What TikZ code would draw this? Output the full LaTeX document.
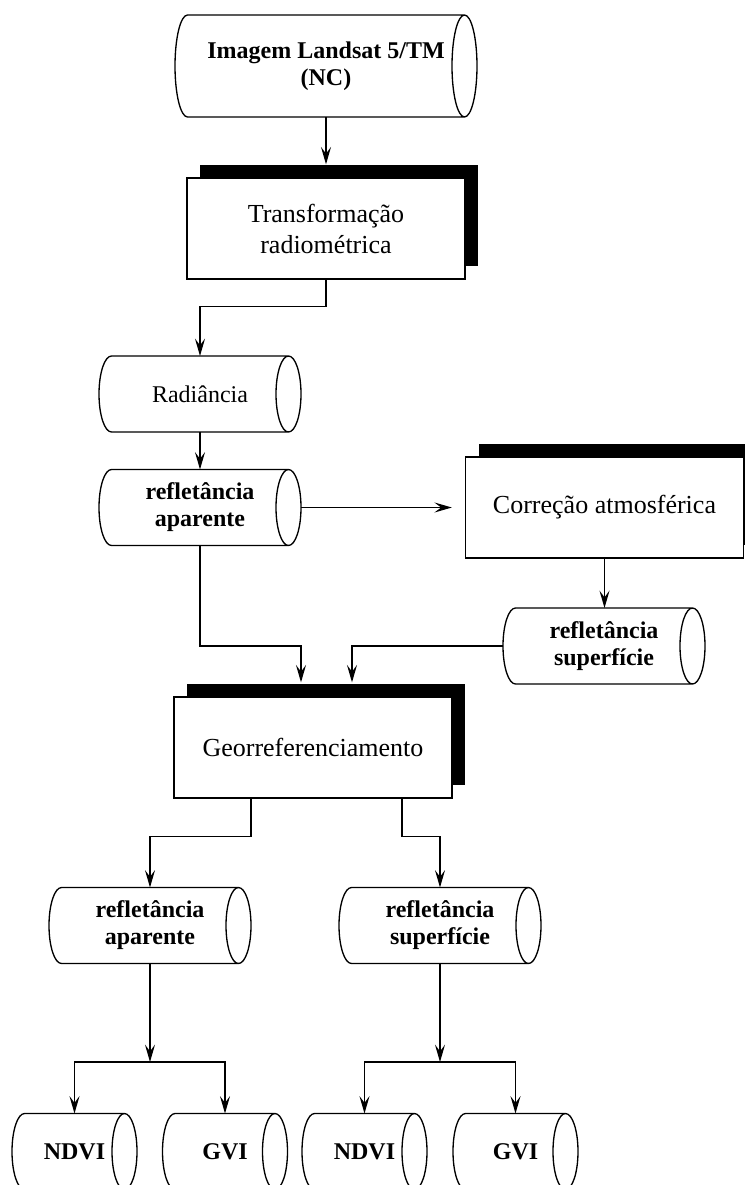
\documentclass[tikz,border=0pt]{standalone}
\usepackage{fontspec}
\setmainfont{Liberation Serif}
\usetikzlibrary{arrows.meta,shadows}
\begin{document}
\begin{tikzpicture}[x=0.75pt,y=-0.75pt,
  line/.style={line width=1pt},
  arr/.style={line, -{Stealth[length=13pt,width=7.5pt,inset=5pt]}},
  procbox/.style={draw, line width=1pt, fill=white, minimum width=208.5pt, minimum height=75.75pt,
    inner sep=2pt, align=center, font=\fontsize{19.5}{23.25}\selectfont,
    general shadow={fill=black, shadow xshift=9.75pt, shadow yshift=9.75pt}},
  cylbody/.style={draw=none, inner sep=0pt, outer sep=0pt, minimum width=#1, minimum height=57pt,
    align=center, font=\fontsize{18}{20.25}\selectfont\bfseries},
  cylbody/.default=132.75pt,
]
\useasboundingbox (0,0) rectangle (745,1185);
\clip (0,0) rectangle (745,1185);

% nodes
\node[cylbody=207.75pt, minimum height=76.5pt] (img) at (326,66) {Imagem Landsat 5/TM\\(NC)};
\node[procbox] (tr) at (326,228.5) {Transformação\\radiométrica};
\node[cylbody, font=\fontsize{18}{20.25}\selectfont] (rad) at (200,394) {Radiância};
\node[cylbody] (ra1) at (200,507.5) {refletância\\aparente};
\node[procbox] (ca) at (604.5,507.5) {Correção atmosférica};
\node[cylbody] (rs1) at (604,646) {refletância\\superfície};
\node[procbox] (geo) at (313,747.5) {Georreferenciamento};
\node[cylbody] (ra2) at (150,925.5) {refletância\\aparente};
\node[cylbody] (rs2) at (440,925.5) {refletância\\superfície};
\node[cylbody=75pt] (nd1) at (74.5,1151.5) {NDVI};
\node[cylbody=75pt] (gv1) at (225,1151.5) {GVI};
\node[cylbody=75pt] (nd2) at (364.5,1151.5) {NDVI};
\node[cylbody=75pt] (gv2) at (515.5,1151.5) {GVI};

% cylinder outlines
\foreach \nm/\ry in {img/38.25pt, rad/28.5pt, ra1/28.5pt, rs1/28.5pt, ra2/28.5pt, rs2/28.5pt,
    nd1/28.5pt, gv1/28.5pt, nd2/28.5pt, gv2/28.5pt}
  \draw[line] (\nm.north east) -- (\nm.north west)
    arc[start angle=90, end angle=270, x radius=9.375pt, y radius=\ry] -- (\nm.south east)
    (\nm.east) ellipse[x radius=9.375pt, y radius=\ry];

% helper coordinates
\coordinate (gin1) at ([shift={(-12,-14)}]geo.north);
\coordinate (gin2) at ([shift={(39,-14)}]geo.north);
\coordinate (gout1) at ([xshift=-46.5pt]geo.south);
\coordinate (gout2) at ([xshift=66.75pt]geo.south);
\coordinate (j1) at (150,1062);
\coordinate (j2) at (440,1062);

% connectors
\draw[arr] (img.south) -- ([yshift=9.75pt]tr.north);
\draw[arr] (tr.south) -- ++(0,27) -| (rad.north);
\draw[arr] (rad.south) -- (ra1.north);
\draw[arr] ([xshift=9.375pt]ra1.east) -- ([xshift=-9.75pt]ca.west);
\draw[arr] (ca.south) -- (ca.south |- rs1.north);
\draw[arr] (ra1.south) -- (ra1.south |- rs1.west) -| (gin1);
\draw[arr] ([xshift=-9.375pt]rs1.west) -| (gin2);
\draw[arr] (gout1) -- ++(0,38) -| (ra2.north);
\draw[arr] (gout2) -- ++(0,38) -| (rs2.north);
\draw[arr] (ra2.south) -- (j1);
\draw[arr] (rs2.south) -- (j2);
\draw[arr] (j1) -| (nd1.north);
\draw[arr] (j1) -| (gv1.north);
\draw[arr] (j2) -| (nd2.north);
\draw[arr] (j2) -| (gv2.north);
\end{tikzpicture}
\end{document}
